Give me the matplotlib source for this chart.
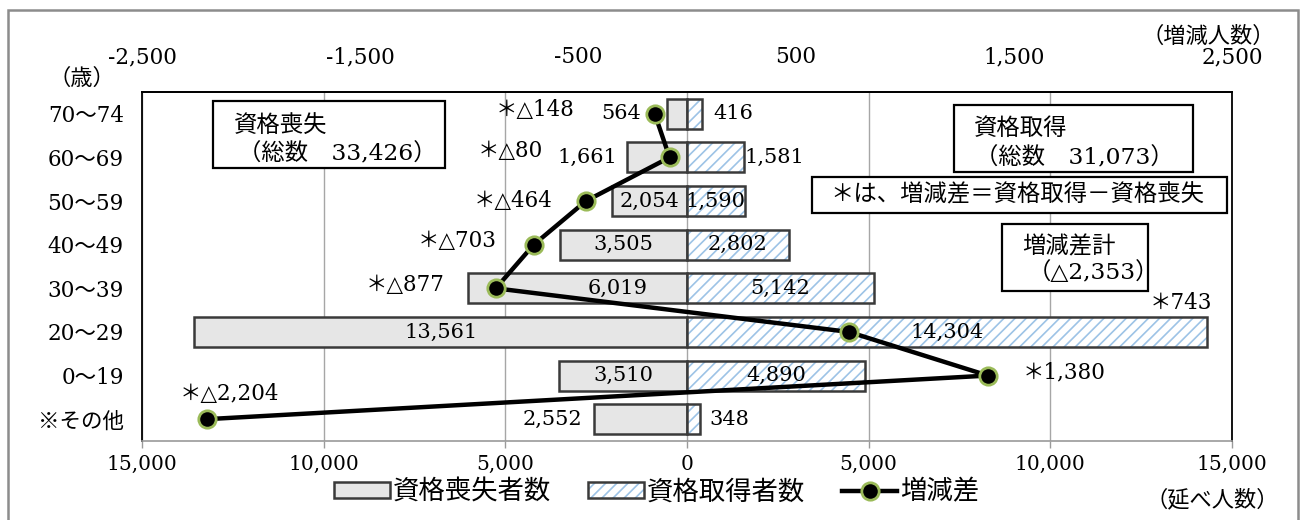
import matplotlib
matplotlib.use("Agg")
import matplotlib.pyplot as plt
from matplotlib.patches import Rectangle, Patch
from matplotlib.lines import Line2D
from matplotlib.legend_handler import HandlerTuple

plt.rcParams['font.family'] = ['DejaVu Serif', 'Noto Sans CJK JP']
plt.rcParams['hatch.linewidth'] = 1.2

# ---- data ----
categories = ['70～74', '60～69', '50～59', '40～49', '30～39', '20～29', '0～19', '※その他']
loss = [564, 1661, 2054, 3505, 6019, 13561, 3510, 2552]      # 資格喪失者数
gain = [416, 1581, 1590, 2802, 5142, 14304, 4890, 348]       # 資格取得者数
diff = [-148, -80, -464, -703, -877, 743, 1380, -2204]       # 増減差
bottom_ticks = [-15000, -10000, -5000, 0, 5000, 10000, 15000]
top_ticks = [-2500, -1500, -500, 500, 1500, 2500]
total_loss = 33426
total_gain = 31073
total_diff = -2353

# ---- styling / label placement (pixels) ----
loss_label_mode = ['out', 'out', 'in', 'in', 'in', 'in', 'in', 'out']
loss_label_gap = [26, 9, 0, 0, 40, 0, 0, 12]
gain_label_mode = ['out', 'out', 'in', 'in', 'in', 'in', 'in', 'out']
gain_label_gap = [11, 0, 0, 0, 0, 0, 0, 10]
diff_label_off = [(-80, -4, 'right'), (-127, -6, 'right'), (-33, 0, 'right'),
                  (-37, -4, 'right'), (-51, -3, 'right'), (301, -29, 'left'),
                  (35, -3, 'left'), (-27, -25, 'left')]

W, H = 1305, 520
def fx(px): return px / W
def fy(py): return 1 - py / H

fig = plt.figure(figsize=(W / 100, H / 100), dpi=100)
ax = fig.add_axes([fx(142), fy(441), fx(1232) - fx(142), fy(92) - fy(441)])

# outer border
fig.patches.append(Rectangle((fx(8), fy(526)), fx(1298) - fx(8), fy(10) - fy(526),
                             transform=fig.transFigure, fill=False,
                             edgecolor='#8c8c8c', linewidth=1.8, zorder=0))

y = list(range(len(categories)))
edge = '#3a3a3a'
loss_fc = '#e6e6e6'
hatch_c = '#9dc3e6'
bh = 0.69

ax.barh(y, [-v for v in loss], height=bh, color=loss_fc, edgecolor=edge, linewidth=1.8, zorder=3)
ax.barh(y, gain, height=bh, color='white', edgecolor=hatch_c, hatch='///', linewidth=0, zorder=3)
ax.barh(y, gain, height=bh, color='none', edgecolor=edge, linewidth=1.8, zorder=4)

ax.set_xlim(-15000, 15000)
ax.set_ylim(len(categories) - 0.5, -0.5)
ax.set_yticks(y)
ax.set_yticklabels(categories, fontsize=15.5)
ax.tick_params(axis='y', length=0, pad=13)
ax.set_xticks(bottom_ticks)
ax.set_xticklabels([f"{abs(v):,}" for v in bottom_ticks], fontsize=14.5)
ax.tick_params(axis='x', length=5, width=1, color='#9a9a9a', pad=5)
ax.grid(axis='x', color='#a6a6a6', linewidth=1, zorder=0)
ax.set_axisbelow(True)
for s in ['left', 'top', 'right']:
    ax.spines[s].set_color('black')
    ax.spines[s].set_linewidth(1.3)
ax.spines['bottom'].set_color('#9a9a9a')
ax.spines['bottom'].set_linewidth(1.2)

# value labels
for i in y:
    lv, gv = loss[i], gain[i]
    if loss_label_mode[i] == 'in':
        ax.annotate(f"{lv:,}", (-lv / 2, i), xytext=(loss_label_gap[i], 0),
                    textcoords='offset pixels', ha='center', va='center',
                    fontsize=15, zorder=6)
    else:
        ax.annotate(f"{lv:,}", (-lv, i), xytext=(-loss_label_gap[i], 0),
                    textcoords='offset pixels', ha='right', va='center',
                    fontsize=15, zorder=6)
    if gain_label_mode[i] == 'in':
        ax.annotate(f"{gv:,}", (gv / 2, i), xytext=(gain_label_gap[i], 0),
                    textcoords='offset pixels', ha='center', va='center',
                    fontsize=15, zorder=6)
    else:
        ax.annotate(f"{gv:,}", (gv, i), xytext=(gain_label_gap[i], 0),
                    textcoords='offset pixels', ha='left', va='center',
                    fontsize=15, zorder=6)

# top axis for 増減差
ax2 = ax.twiny()
ax2.set_xlim(-2500, 2500)
ax2.set_ylim(ax.get_ylim())
ax2.set_xticks(top_ticks)
ax2.set_xticklabels([f"{v:,}" for v in top_ticks], fontsize=15.5)
ax2.tick_params(axis='x', length=0, pad=17)
for s in ['left', 'right', 'bottom']:
    ax2.spines[s].set_visible(False)
ax2.spines['top'].set_color('black')
ax2.spines['top'].set_linewidth(1.3)
ax2.plot(diff, y, color='black', linewidth=3.2, marker='o', markersize=12.5,
         markerfacecolor='black', markeredgecolor='#9bbb59', markeredgewidth=2, zorder=7)
for i, d in enumerate(diff):
    txt = f"＊△{abs(d):,}" if d < 0 else f"＊{d:,}"
    dx, dy, ha = diff_label_off[i]
    ax2.annotate(txt, (d, i), xytext=(dx, -dy), textcoords='offset pixels',
                 ha=ha, va='center', fontsize=15.5, zorder=8)

# unit labels
fig.text(fx(48), fy(79), '（歳）', fontsize=16, ha='left', va='center')
fig.text(fx(1208), fy(37), '（増減人数）', fontsize=16, ha='center', va='center')
fig.text(fx(1212), fy(500), '（延べ人数）', fontsize=16, ha='center', va='center')

# text boxes
def box(x0, y0, x1, y1, lines):
    fig.patches.append(Rectangle((fx(x0), fy(y1)), fx(x1) - fx(x0), fy(y0) - fy(y1),
                                 transform=fig.transFigure, facecolor='white',
                                 edgecolor='black', linewidth=1.6, zorder=10))
    for (tx, ty, s) in lines:
        fig.text(fx(tx), fy(ty), s, fontsize=16.8, ha='left', va='center', zorder=11)

box(213, 101, 445, 168, [(234, 127, '資格喪失'), (238, 154, f'（総数　{total_loss:,}）')])
box(954, 105, 1193, 172, [(974, 129, '資格取得'), (975, 158, f'（総数　{total_gain:,}）')])
box(812, 177, 1227, 213, [(830, 195, '＊は、増減差＝資格取得－資格喪失')])
box(1002, 224, 1148, 291, [(1022, 247, '増減差計'), (1028, 273, f'（△{abs(total_diff):,}）')])

# legend
h_loss = Patch(facecolor=loss_fc, edgecolor=edge, linewidth=1.8)
h_gain = (Patch(facecolor='white', edgecolor=hatch_c, hatch='///', linewidth=0),
          Patch(facecolor='none', edgecolor=edge, linewidth=1.8))
h_line = Line2D([], [], color='black', linewidth=3.2, marker='o', markersize=12.5,
                markerfacecolor='black', markeredgecolor='#9bbb59', markeredgewidth=2)
fig.legend([h_loss, h_gain, h_line], ['資格喪失者数', '資格取得者数', '増減差'],
           handler_map={tuple: HandlerTuple(ndivide=1, pad=0)},
           loc='center', bbox_to_anchor=(fx(657), fy(492)), ncol=3, frameon=False,
           fontsize=19, handlelength=2.1, handleheight=0.55, handletextpad=0.12,
           columnspacing=1.4, borderaxespad=0)

fig.savefig('out.png', dpi=100)
